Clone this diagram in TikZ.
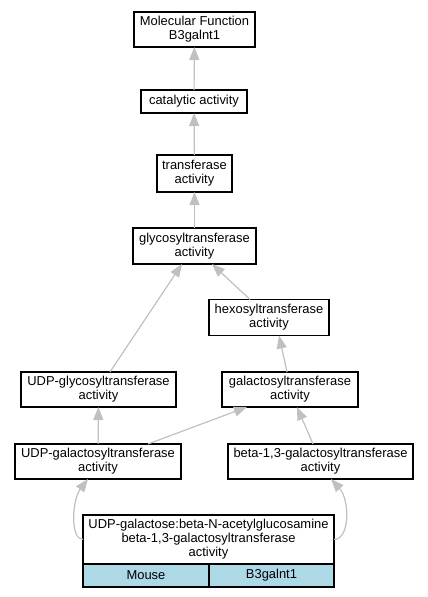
\documentclass[tikz,border=0pt]{standalone}
\usepackage{fontspec}
\setmainfont{Liberation Sans}
\usetikzlibrary{arrows.meta,positioning,calc}
\definecolor{goedge}{RGB}{192,192,192}
\definecolor{gocell}{RGB}{173,216,230}

\begin{document}
\begin{tikzpicture}[x=0.75pt, y=-0.75pt,
  term/.style={draw, line width=1pt, inner sep=0pt, outer sep=0pt, align=center,
    font=\fontsize{9.7}{10.5}\selectfont},
  cell/.style={term, fill=gocell, anchor=north west, minimum height=17.25pt},
  isa/.style={draw=goedge, line width=0.9pt,
    -{Triangle[length=9.75pt, width=7.5pt]}}]
\useasboundingbox (0,0) rectangle (428,597);
% terms, top to bottom
\node[term, minimum width=90.75pt, minimum height=26.25pt] (mf) at (194.5,29.5)
  {Molecular Function\\B3galnt1};
\node[term, minimum width=79.5pt, minimum height=17.25pt] (cat) at (194,101.5)
  {catalytic activity};
\node[term, minimum width=56.25pt, minimum height=27.75pt] (trans) at (194.5,173.5)
  {transferase\\activity};
\node[term, minimum width=92.25pt, minimum height=27pt] (glyco) at (194.5,246)
  {glycosyltransferase\\activity};
\node[term, minimum width=90pt, minimum height=27pt] (hex) at (269,317.5)
  {hexosyltransferase\\activity};
\node[term, minimum width=116.25pt, minimum height=26.25pt] (udpglyco) at (98.5,389.5)
  {UDP-glycosyltransferase\\activity};
\node[term, minimum width=102pt, minimum height=26.25pt] (galacto) at (290,389.5)
  {galactosyltransferase\\activity};
\node[term, minimum width=124.5pt, minimum height=26.25pt] (udpgal) at (98,461.5)
  {UDP-galactosyltransferase\\activity};
\node[term, minimum width=138.75pt, minimum height=26.25pt] (beta) at (320.5,461.5)
  {beta-1,3-galactosyltransferase\\activity};
\node[term, minimum width=188.25pt, minimum height=36.75pt] (gene) at (208.5,539.5)
  {UDP-galactose:beta-N-acetylglucosamine\\beta-1,3-galactosyltransferase\\activity};
\node[cell, minimum width=94.5pt] (mouse) at (gene.south west) {Mouse};
\node[cell, minimum width=93.75pt] (sym) at (mouse.north east) {B3galnt1};
% is_a edges
\draw[isa] (cat) -- (mf);
\draw[isa] (trans) -- (cat);
\draw[isa] (glyco) -- (trans);
\draw[isa] ($(hex.north)+(-19,0)$) -- ($(glyco.south)+(17.5,0)$);
\draw[isa] ($(udpglyco.north)+(11.5,0)$) -- ($(glyco.south)+(-12.5,0)$);
\draw[isa] ($(galacto.north)+(-3,0)$) -- ($(hex.south)+(10,0)$);
\draw[isa] (udpgal) -- (udpglyco);
\draw[isa] ($(udpgal.north)+(50,0)$) -- ($(galacto.south)+(-43,0)$);
\draw[isa] ($(beta.north)+(-7.5,0)$) -- ($(galacto.south)+(7,0)$);
\draw[isa] (gene.west) .. controls ($(gene.west)+(-13,0)$)
  and ($(udpgal.south)+(-26,21)$) .. ($(udpgal.south)+(-10,0)$);
\draw[isa] (gene.east) .. controls ($(gene.east)+(16,0)$)
  and ($(beta.south)+(29.5,21)$) .. ($(beta.south)+(10.5,0)$);
\end{tikzpicture}
\end{document}
